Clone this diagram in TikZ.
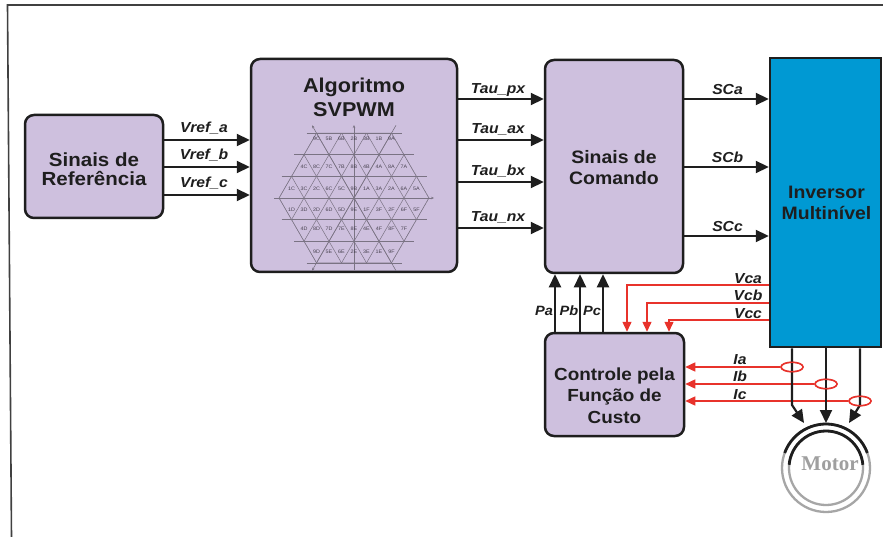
\documentclass[tikz,border=0pt]{standalone}
\usepackage{fontspec}
\setmainfont{Liberation Sans}[FakeStretch=1.08]
\newfontfamily\motorfont{Liberation Serif}
\usetikzlibrary{arrows.meta,shapes.geometric}

\definecolor{lilac}{HTML}{CEC0DE}
\definecolor{invblue}{HTML}{0099D3}
\definecolor{ink}{HTML}{1E1E1E}
\definecolor{sigred}{HTML}{E8322B}
\definecolor{gridgray}{HTML}{7A7383}
\definecolor{hexink}{HTML}{4A4452}

\tikzset{
  block/.style={draw=ink, line width=2.5pt, fill=lilac, rounded corners=9pt, inner sep=0pt},
  invbox/.style={draw=ink, line width=2.5pt, fill=invblue, inner sep=0pt},
  title/.style={text=ink, align=center, inner sep=0pt},
  sig/.style={font=\fontsize{14.5}{16}\selectfont\bfseries\itshape, text=ink, anchor=base, inner sep=0pt},
  psig/.style={font=\fontsize{13.5}{15}\selectfont\bfseries\itshape, text=ink, anchor=base, inner sep=0pt},
  arr/.style={draw=ink, line width=2.2pt, -{Triangle[length=13pt,width=12pt]}},
  fb/.style={draw=sigred, line width=1.4pt, -{Triangle[length=10pt,width=9pt]}},
  probe/.style={ellipse, draw=sigred, line width=1.4pt, minimum width=22pt, minimum height=9.5pt, inner sep=0pt},
  hexgrid/.style={draw=gridgray, line width=0.5pt},
  hexaxis/.style={draw=gridgray, line width=0.6pt, -{Stealth[length=3pt,width=2.5pt]}},
  hexlab/.style={font=\fontsize{5}{5}\selectfont, text=hexink, inner sep=0pt},
}

\begin{document}
\begin{tikzpicture}[x=1pt,y=-1pt]
\useasboundingbox (0,0) rectangle (883,537);
\fill[white] (0,0) rectangle (883,537);

% page frame
\draw[ink!85, line width=1.6pt] (883,5) -- (7.5,5) -- (11.5,537);

% blocks
\node[block, minimum width=138pt, minimum height=103pt] (ref) at (94,166.5) {};
\node[block, minimum width=206pt, minimum height=213pt] (svpwm) at (354,165.5) {};
\node[block, minimum width=138pt, minimum height=213pt] (cmd) at (614,166.5) {};
\node[invbox, minimum width=111pt, minimum height=289pt] (inv) at (825.5,202.5) {};
\node[block, minimum width=139pt, minimum height=103pt] (ctrl) at (614.5,384.5) {};

% block titles
\node[title, font=\fontsize{19}{19}\selectfont\bfseries] (reftxt) at (94,169) {Sinais de\\Referência};
\node[title, font=\fontsize{20}{24}\selectfont\bfseries] (svtxt) at (354,97.5) {Algoritmo\\SVPWM};
\node[title, font=\fontsize{18}{20.7}\selectfont\bfseries] (cmdtxt) at (614,167.5) {Sinais de\\Comando};
\node[title, font=\fontsize{18}{20.7}\selectfont\bfseries] (invtxt) at (826.5,203) {Inversor\\Multinível};
\node[title, font=\fontsize{17.5}{21.7}\selectfont\bfseries] (ctrltxt) at (614.5,395.5) {Controle pela\\Função de\\Custo};

% space-vector hexagon inside the SVPWM block
\begin{scope}[shift={(354,198)}]
  \begin{scope}
    \clip (-75,0) -- (-37.5,-64.95) -- (37.5,-64.95) -- (75,0) -- (37.5,64.95) -- (-37.5,64.95) -- cycle;
    \foreach \i in {-6,...,6} {
      \draw[hexgrid] ({25*\i-50},-86.6) -- ({25*\i+50},86.6);
      \draw[hexgrid] ({25*\i+50},-86.6) -- ({25*\i-50},86.6);
    }
  \end{scope}
  \foreach \k in {1,2,3} {
    \draw[hexgrid] ({-(85-12.5*\k)},{-21.65*\k}) -- ({85-12.5*\k},{-21.65*\k});
    \draw[hexgrid] ({-(85-12.5*\k)},{21.65*\k}) -- ({85-12.5*\k},{21.65*\k});
  }
  \draw[hexgrid] (-75,0) -- (-37.5,-64.95) -- (37.5,-64.95) -- (75,0) -- (37.5,64.95) -- (-37.5,64.95) -- cycle;
  % reference axes
  \draw[hexaxis] (-80,0) -- (80,0);
  \draw[hexaxis] (0,72) -- (0,-73);
  \draw[hexaxis] (42,72.7) -- (-42,-72.7);
  \draw[hexaxis] (42,-72.7) -- (-42,72.7);
  % switching-state labels, row by row
  \foreach \lab [count=\k from 0] in {9C,5B,6B,2B,3B,1B,9A}
    \node[hexlab] (hu3-\k) at ({-37.5+12.5*\k},-59.5) {\lab};
  \foreach \lab [count=\k from 0] in {4C,8C,7C,7B,8B,4B,4A,8A,7A}
    \node[hexlab] (hu2-\k) at ({-50+12.5*\k},-31.5) {\lab};
  \foreach \lab [count=\k from 0] in {1C,3C,2C,6C,5C,9B,1A,3A,2A,6A,5A}
    \node[hexlab] (hu1-\k) at ({-62.5+12.5*\k},-9.5) {\lab};
  \foreach \lab [count=\k from 0] in {1D,3D,2D,6D,5D,9E,1F,3F,2F,6F,5F}
    \node[hexlab] (hd1-\k) at ({-62.5+12.5*\k},11.5) {\lab};
  \foreach \lab [count=\k from 0] in {4D,8D,7D,7E,8E,4E,4F,8F,7F}
    \node[hexlab] (hd2-\k) at ({-50+12.5*\k},31) {\lab};
  \foreach \lab [count=\k from 0] in {9D,5E,6E,2E,3E,1E,9F}
    \node[hexlab] (hd3-\k) at ({-37.5+12.5*\k},53.5) {\lab};
\end{scope}

% reference voltages
\coordinate (ya) at (0,140); \coordinate (yb) at (0,167); \coordinate (yc) at (0,195);
\draw[arr] (ref.east |- ya) -- (svpwm.west |- ya);
\draw[arr] (ref.east |- yb) -- (svpwm.west |- yb);
\draw[arr] (ref.east |- yc) -- (svpwm.west |- yc);
\node[sig] (lva) at (204,133) {Vref\_a};
\node[sig] (lvb) at (204,160) {Vref\_b};
\node[sig] (lvc) at (204,187.5) {Vref\_c};

% duty times
\coordinate (t1) at (0,99); \coordinate (t2) at (0,140); \coordinate (t3) at (0,182); \coordinate (t4) at (0,228);
\draw[arr] (svpwm.east |- t1) -- (cmd.west |- t1);
\draw[arr] (svpwm.east |- t2) -- (cmd.west |- t2);
\draw[arr] (svpwm.east |- t3) -- (cmd.west |- t3);
\draw[arr] (svpwm.east |- t4) -- (cmd.west |- t4);
\node[sig] (ltp) at (498,93.3) {Tau\_px};
\node[sig] (lta) at (498,133.5) {Tau\_ax};
\node[sig] (ltb) at (498,175.5) {Tau\_bx};
\node[sig] (ltn) at (498,221.5) {Tau\_nx};

% gate signals
\coordinate (s1) at (0,99); \coordinate (s2) at (0,167); \coordinate (s3) at (0,236);
\draw[arr] (cmd.east |- s1) -- (inv.west |- s1);
\draw[arr] (cmd.east |- s2) -- (inv.west |- s2);
\draw[arr] (cmd.east |- s3) -- (inv.west |- s3);
\node[sig] (lsa) at (727.5,95) {SCa};
\node[sig] (lsb) at (727.5,162.5) {SCb};
\node[sig] (lsc) at (727.5,231.5) {SCc};

% selected phase states
\coordinate (pa) at (555,0); \coordinate (pb) at (580,0); \coordinate (pc) at (603,0);
\draw[arr] (ctrl.north -| pa) -- (cmd.south -| pa);
\draw[arr] (ctrl.north -| pb) -- (cmd.south -| pb);
\draw[arr] (ctrl.north -| pc) -- (cmd.south -| pc);
\node[psig] (lpa) at (544,315) {Pa};
\node[psig] (lpb) at (569,315) {Pb};
\node[psig] (lpc) at (592,315) {Pc};

% capacitor voltage feedback
\coordinate (va) at (627,285); \coordinate (vb) at (647,303); \coordinate (vc) at (669,320);
\draw[fb] (inv.west |- va) -| (va |- ctrl.north);
\draw[fb] (inv.west |- vb) -| (vb |- ctrl.north);
\draw[fb] (inv.west |- vc) -| (vc |- ctrl.north);
\node[sig] (lvca) at (748,283.5) {Vca};
\node[sig] (lvcb) at (748,301) {Vcb};
\node[sig] (lvcc) at (748,318) {Vcc};

% current probes and feedback
\node[probe] (ia) at (792,367) {};
\node[probe] (ib) at (826,384) {};
\node[probe] (ic) at (860,401) {};
\draw[fb] (ia.west) -- (ctrl.east |- ia.west);
\draw[fb] (ib.west) -- (ctrl.east |- ib.west);
\draw[fb] (ic.west) -- (ctrl.east |- ic.west);
\node[sig] (lia) at (740,364) {Ia};
\node[sig] (lib) at (740,381.5) {Ib};
\node[sig] (lic) at (740,399) {Ic};

% motor
\coordinate (mc) at (826,468);
\draw[gray!70, line width=2.3pt] (mc) circle[radius=44];
\draw[gray!70, line width=2.3pt] (mc) circle[radius=37];
\draw[ink, line width=2.8pt] (mc) ++(200:44) arc[start angle=200, end angle=340, radius=44];
\draw[ink, line width=2.8pt] (mc) ++(185:37) arc[start angle=185, end angle=355, radius=37];
\node[font=\motorfont\bfseries\fontsize{21}{21}\selectfont, text=gray!75, inner sep=0pt] (motortxt) at (830,464) {Motor};

% inverter output phases
\coordinate (wa) at (792,405); \coordinate (wc) at (860,405);
\coordinate (tipa) at (804,423); \coordinate (tipb) at (826,423); \coordinate (tipc) at (849,423);
\draw[arr] (inv.south -| wa) -- (wa) -- (tipa);
\draw[arr] (inv.south -| tipb) -- (tipb);
\draw[arr] (inv.south -| wc) -- (wc) -- (tipc);
\node[probe] (ia2) at (ia) {};
\node[probe] (ib2) at (ib) {};
\node[probe] (ic2) at (ic) {};
\end{tikzpicture}
\end{document}
